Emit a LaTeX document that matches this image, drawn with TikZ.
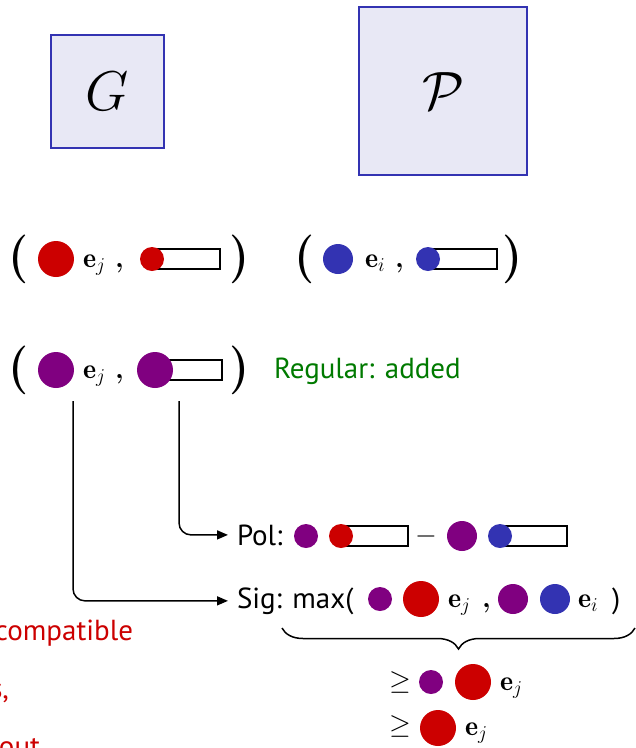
\RequirePackage{fix-cm}
\documentclass[tikz,border=0pt]{standalone}
\usepackage{fontspec}
\setsansfont{PT Sans}
\usepackage{graphicx}
\usetikzlibrary{arrows.meta,decorations.pathreplacing}
\definecolor{dotred}{HTML}{CC0000}
\definecolor{dotpurple}{HTML}{800080}
\definecolor{dotblue}{HTML}{3333B2}
\definecolor{boxfill}{HTML}{E8E8F5}
\definecolor{okgreen}{HTML}{007A00}
\newcommand{\bigparen}[1]{\scalebox{1.7}[1.8]{\bfseries #1}}
\newcommand{\paircomma}{\textbf{,}}
\begin{document}
\begin{tikzpicture}[x=1pt,y=-1pt,
  every node/.style={inner sep=0pt,outer sep=0pt},
  txt/.style={font=\fontsize{29}{34}\selectfont\sffamily},
  mth/.style={font=\fontsize{28}{33}\selectfont},
  paren/.style={font=\fontsize{27}{32}\selectfont},
  setbox/.style={draw=dotblue,fill=boxfill,line width=1.8pt,minimum size=#1},
  sball/.style={circle,fill=#1,minimum size=24pt},
  mball/.style={circle,fill=#1,minimum size=30pt},
  bball/.style={circle,fill=#1,minimum size=36pt},
  slot/.style={draw,line width=1.3pt,minimum width=#1,minimum height=20pt},
  conn/.style={line width=1.5pt,rounded corners=12pt,-{Triangle[length=11pt,width=9pt]}},
  note/.style={font=\fontsize{29}{34}\selectfont\sffamily,text=dotred}]
\useasboundingbox (0,0) rectangle (636,748);
\clip (0,0) rectangle (636,748);

% the two sets
\node[setbox=113pt] (gset) at (107.5,91.5) {};
\node[font=\fontsize{56}{66}\selectfont] (glabel) at (gset.center) {$G$};
\node[setbox=168pt] (pset) at (443,91) {};
\node[font=\fontsize{54}{64}\selectfont] (plabel) at (pset.center) {$\mathcal{P}$};

% pair taken from G
\node[paren] (g-open) at (19,259) {\bigparen{(}};
\node[bball=dotred] (g-mon) at (56,259) {};
\node[mth,anchor=base west] (g-e) at (83,267) {$\mathbf{e}_j$};
\node[mth,anchor=base west] (g-comma) at (115,267) {\paircomma};
\node[slot=68pt] (g-poly) at (186,259) {};
\node[sball=dotred] (g-lead) at (152,259) {};
\node[paren] (g-close) at (240,259) {\bigparen{)}};

% pair taken from P
\node[paren] (p-open) at (305,259) {\bigparen{(}};
\node[mball=dotblue] (p-mon) at (338,259) {};
\node[mth,anchor=base west] (p-e) at (365,267) {$\mathbf{e}_i$};
\node[mth,anchor=base west] (p-comma) at (395,267) {\paircomma};
\node[slot=69pt] (p-poly) at (462.5,259) {};
\node[sball=dotblue] (p-lead) at (428,259) {};
\node[paren] (p-close) at (513,259) {\bigparen{)}};

% the new pair
\node[paren] (n-open) at (19,370) {\bigparen{(}};
\node[bball=dotpurple] (n-mon) at (56,370) {};
\node[mth,anchor=base west] (n-e) at (83,378) {$\mathbf{e}_j$};
\node[mth,anchor=base west] (n-comma) at (115,378) {\paircomma};
\node[slot=67pt] (n-poly) at (188.5,370) {};
\node[bball=dotpurple] (n-lead) at (155,370) {};
\node[paren] (n-close) at (240,370) {\bigparen{)}};
\node[txt,text=okgreen,anchor=base west] (regular) at (274,378) {Regular: added};

% polynomial part
\node[txt,anchor=base west] (pol) at (237,545) {Pol:};
\node[sball=dotpurple] (pol-m1) at (306,536) {};
\node[slot=67pt] (pol-p1) at (374.5,536) {};
\node[sball=dotred] (pol-l1) at (341,536) {};
\node[mth] (pol-minus) at (426,536) {$-$};
\node[mball=dotpurple] (pol-m2) at (462,536) {};
\node[slot=67pt] (pol-p2) at (533.5,536) {};
\node[sball=dotblue] (pol-l2) at (500,536) {};

% signature part
\node[txt,anchor=base west] (sig) at (237,608) {Sig: max(};
\node[sball=dotpurple] (sig-m1) at (380,599) {};
\node[bball=dotred] (sig-l1) at (421,599) {};
\node[mth,anchor=base west] (sig-e1) at (448,607) {$\mathbf{e}_j$};
\node[mth,anchor=base west] (sig-comma) at (482,607) {\paircomma};
\node[mball=dotpurple] (sig-m2) at (513,599) {};
\node[mball=dotblue] (sig-l2) at (555,599) {};
\node[mth,anchor=base west] (sig-e2) at (578,607) {$\mathbf{e}_i$};
\node[txt,anchor=base west] (sig-close) at (612,608) {)};

% connectors from the new pair
\coordinate (src-sig) at (73,401);
\coordinate (src-pol) at (179,401);
\draw[conn] (src-pol) |- ([xshift=-9pt]pol.west);
\draw[conn] (src-sig) |- ([xshift=-9pt]sig.west);

% brace under the signature
\coordinate (brace-l) at (282,628);
\coordinate (brace-r) at (635,628);
\draw[line width=1.5pt,decorate,decoration={brace,mirror,amplitude=21pt}] (brace-l) -- (brace-r);

% lower bounds
\node[mth] (geq1) at (400,682) {$\geq$};
\node[sball=dotpurple] (geq1-m) at (431,682) {};
\node[bball=dotred] (geq1-l) at (473,682) {};
\node[mth,anchor=base west] (geq1-e) at (500,690) {$\mathbf{e}_j$};
\node[mth] (geq2) at (400,726) {$\geq$};
\node[bball=dotred] (geq2-l) at (438,728) {};
\node[mth,anchor=base west] (geq2-e) at (465,735) {$\mathbf{e}_j$};

% side remarks
\node[note,anchor=base east] (rem1) at (133,640) {compatible};
\node[note,anchor=base east] (rem2) at (9,698) {s,};
\node[note,anchor=base east] (rem3) at (40,756) {out};
\end{tikzpicture}
\end{document}
